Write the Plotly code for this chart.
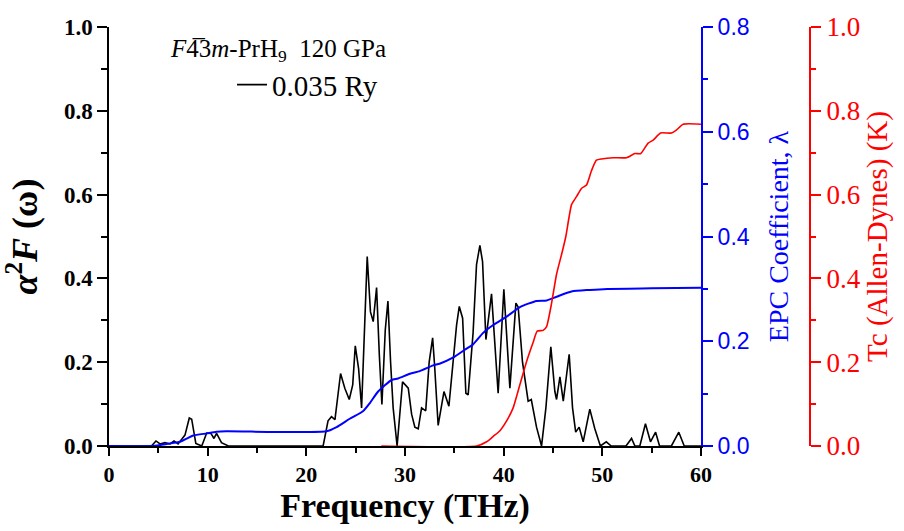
import plotly.graph_objects as go

# alpha^2F(omega) spectral function (black)
freq_a2f = [0, 4.3, 4.76, 5.17, 5.67, 6.18, 6.59, 7.0, 7.7, 8.14, 8.38, 8.8, 9.4, 9.9, 10.33, 10.64,
            10.9, 11.4, 12.1, 21.7, 22.2, 22.55, 22.9, 23.47, 23.9, 24.35, 24.7, 24.96, 25.3, 25.6,
            26.17, 26.5, 26.78, 27.12, 27.4, 27.66, 28.0, 28.27, 28.54, 28.8, 29.2, 29.75, 30.33,
            30.67, 31.0, 31.34, 31.68, 32.1, 32.45, 32.8, 33.0, 33.36, 33.95, 34.45, 35.23, 35.5,
            35.84, 36.17, 36.4, 36.9, 37.25, 37.59, 37.86, 38.2, 38.77, 39.44, 40.02, 40.63, 41.24,
            41.47, 41.91, 42.48, 42.8, 43.33, 43.84, 44.28, 44.78, 45.19, 45.36, 45.7, 46.04, 46.64,
            46.98, 47.3, 47.65, 48.06, 48.73, 49.24, 49.8, 50.4, 50.9, 52.4, 52.96, 53.3, 53.8,
            54.37, 54.88, 55.4, 55.8, 57.0, 57.75, 58.3, 60]
a2f = [0, 0, 0.012, 0.005, 0.008, 0.005, 0.012, 0.005, 0.026, 0.067, 0.064, 0.006, 0, 0.031, 0.03,
       0.018, 0.03, 0.008, 0, 0, 0.06, 0.07, 0.063, 0.173, 0.138, 0.111, 0.146, 0.239, 0.184, 0.091,
       0.452, 0.32, 0.297, 0.378, 0.216, 0.099, 0.277, 0.346, 0.2, 0.091, 0.0, 0.153, 0.138,
       0.076, 0.045, 0.041, 0.091, 0.084, 0.2, 0.258, 0.192, 0.049, 0.13, 0.095, 0.289, 0.333,
       0.305, 0.126, 0.122, 0.27, 0.433, 0.479, 0.44, 0.254, 0.363, 0.126, 0.374, 0.138, 0.341,
       0.332, 0.2, 0.107, 0.111, 0.045, 0.0, 0.091, 0.237, 0.13, 0.111, 0.165, 0.107, 0.219,
       0.091, 0.033, 0.045, 0.01, 0.088, 0.041, 0.0, 0.01, 0, 0, 0.018, 0, 0,
       0.053, 0.01, 0.033, 0, 0, 0.033, 0, 0]

# EPC coefficient lambda (blue)
freq_lam = [0, 4.5, 5.84, 7.2, 7.87, 8.54, 9.9, 10.9, 11.9, 22.05, 23.07, 24.4, 25.77, 26.44, 27.28,
            28.64, 29.3, 30.5, 31.5, 32.86, 33.5, 34.9, 36.24, 36.9, 37.92, 38.94, 40.3, 41.65,
            43.33, 44.35, 45.36, 46.88, 48.73, 50.5, 55, 60]
lam = [0, 0, 0.004, 0.008, 0.014, 0.02, 0.024, 0.027, 0.028, 0.028, 0.036, 0.052, 0.067, 0.082, 0.104,
       0.126, 0.129, 0.138, 0.143, 0.154, 0.157, 0.169, 0.186, 0.194, 0.216, 0.231, 0.247, 0.265,
       0.277, 0.278, 0.285, 0.295, 0.298, 0.300, 0.301, 0.302]

# Tc (Allen-Dynes) (red)
freq_tc = [27.6, 37.25, 38.27, 38.94, 39.6, 40.3, 40.96, 41.64, 42.3, 42.98, 43.4, 44.0, 44.35, 44.85,
           45.36, 45.9, 46.3, 46.88, 47.38, 47.9, 48.4, 48.9, 49.4, 49.92, 51.1, 52.45, 53.3, 53.9,
           54.64, 55.15, 55.9, 57.0, 57.5, 58.2, 60]
tc = [0, 0, 0.01, 0.023, 0.036, 0.06, 0.091, 0.146, 0.2, 0.247, 0.274, 0.276, 0.285, 0.34,
      0.41, 0.46, 0.5, 0.576, 0.595, 0.615, 0.623, 0.657, 0.682, 0.685, 0.688, 0.688, 0.698, 0.698,
      0.723, 0.73, 0.747, 0.747, 0.754, 0.768, 0.768]

SERIF = "Liberation Serif"
SANS = "Liberation Sans"

fig = go.Figure()
fig.add_trace(go.Scatter(x=freq_a2f, y=a2f, mode="lines", name="0.035 Ry",
                         line=dict(color="black", width=1.6), yaxis="y"))
fig.add_trace(go.Scatter(x=freq_lam, y=lam, mode="lines", showlegend=False,
                         line=dict(color="#0000ff", width=2, shape="spline", smoothing=0.6), yaxis="y2"))
fig.add_trace(go.Scatter(x=freq_tc, y=tc, mode="lines", showlegend=False,
                         line=dict(color="#ff0000", width=1.6, shape="spline", smoothing=0.5), yaxis="y3"))

xdom_end = 592 / 701

fig.update_layout(
    width=904, height=531,
    margin=dict(l=109, r=94, t=16, b=85),
    plot_bgcolor="white", paper_bgcolor="white",
    showlegend=True,
    legend=dict(x=0.1755, y=0.862, xanchor="left", yanchor="middle",
                bgcolor="rgba(0,0,0,0)", font=dict(family=SERIF, size=29, color="black")),
    xaxis=dict(domain=[0, xdom_end], range=[0, 60], dtick=10, tick0=0,
               showline=True, linecolor="black", linewidth=1.5, mirror=False,
               ticks="outside", ticklen=8, tickwidth=1.5, tickcolor="black",
               minor=dict(dtick=5, ticks="outside", ticklen=5, tickwidth=1.5, tickcolor="black"),
               showgrid=False, zeroline=False,
               tickfont=dict(family=SERIF, size=22, color="black", weight="bold"),
               title=dict(text="Frequency (THz)", standoff=0,
                          font=dict(family=SERIF, size=34, color="black", weight="bold"))),
    yaxis=dict(range=[0, 1], dtick=0.2, tick0=0, tickformat=".1f",
               showline=True, linecolor="black", linewidth=1.5,
               ticks="outside", ticklen=10, tickwidth=1.5, tickcolor="black",
               minor=dict(dtick=0.1, ticks="outside", ticklen=6, tickwidth=1.5, tickcolor="black"),
               showgrid=False, zeroline=False,
               tickfont=dict(family=SERIF, size=23, color="black", weight="bold"),
               title=dict(text="<i>α</i><sup>2</sup><i>F</i> (ω)", standoff=16,
                          font=dict(family=SERIF, size=36, color="black", weight="bold"))),
    yaxis2=dict(range=[0, 0.8], dtick=0.2, tick0=0, tickformat=".1f",
                overlaying="y", side="right", anchor="x",
                showline=True, linecolor="#0000ff", linewidth=2,
                ticks="outside", ticklen=10, tickwidth=2, tickcolor="#0000ff",
                minor=dict(dtick=0.1, ticks="outside", ticklen=5, tickwidth=2, tickcolor="#0000ff"),
                showgrid=False, zeroline=False,
                tickfont=dict(family=SANS, size=23, color="#0000ff"),
                title=dict(text="EPC Coefficient, λ", standoff=20,
                           font=dict(family=SERIF, size=28, color="#0000ff"))),
    yaxis3=dict(range=[0, 1], dtick=0.2, tick0=0, tickformat=".1f",
                overlaying="y", side="right", anchor="free", position=1.0,
                showline=True, linecolor="#ff0000", linewidth=2,
                ticks="outside", ticklen=10, tickwidth=2, tickcolor="#ff0000",
                minor=dict(dtick=0.1, ticks="outside", ticklen=5, tickwidth=2, tickcolor="#ff0000"),
                showgrid=False, zeroline=False,
                tickfont=dict(family=SERIF, size=27, color="#ff0000"),
                title=dict(text="Tc (Allen-Dynes) (K)", standoff=6,
                           font=dict(family=SERIF, size=29, color="#ff0000"))),
    annotations=[dict(text="<i>F</i>4\u03053<i>m</i>-PrH<sub>9</sub>\u00a0\u00a0120 GPa",
                      xref="paper", yref="paper", x=0.084, y=0.944,
                      xanchor="left", yanchor="middle", showarrow=False,
                      font=dict(family=SERIF, size=25, color="black"))],
)

fig.write_html("out.html")
